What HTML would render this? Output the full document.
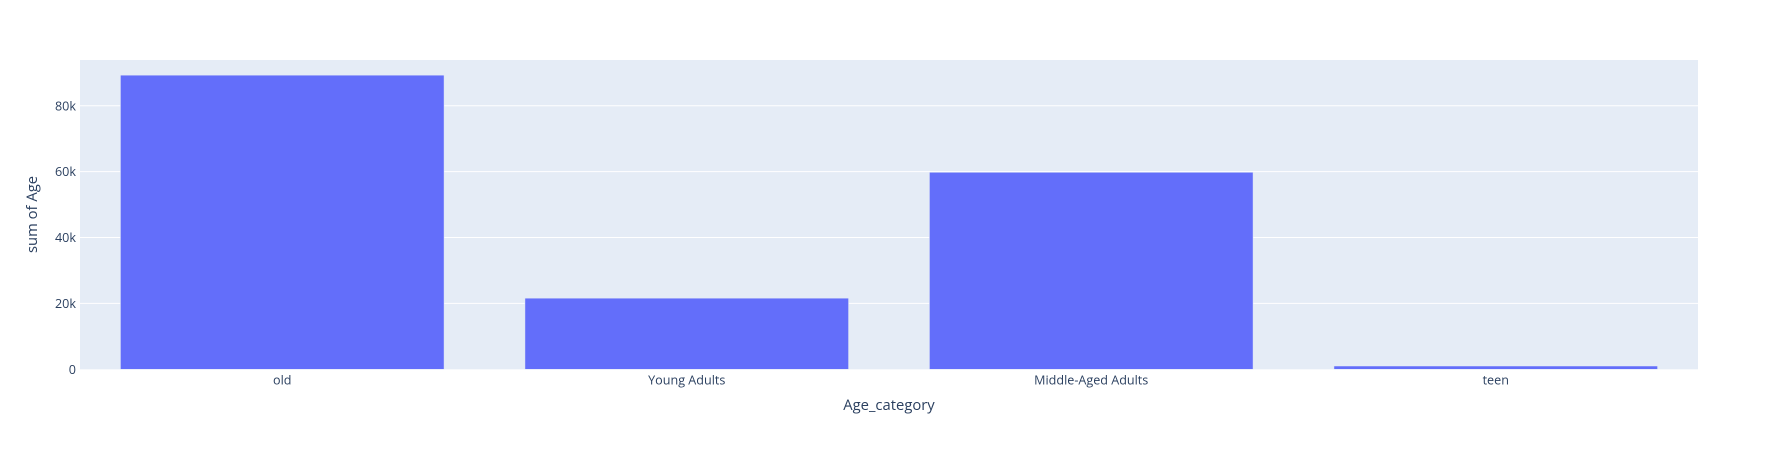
<!DOCTYPE html>
<html><head><meta charset="utf-8"><style>
body{margin:0;background:#fff;}
svg{display:block;font-family:"Open Sans","Liberation Sans",sans-serif;}
</style></head><body>
<svg id="chart" width="1778" height="450">
<rect x="80" y="60" width="1618" height="309.3" fill="#e5ecf6"/>
<g id="grid"></g><g id="bars"></g><g id="yticks"></g><g id="xticks"></g>
<text x="889" y="410" text-anchor="middle" font-size="14.8" fill="#2a3f5f">Age_category</text>
<text transform="translate(37,214.5) rotate(-90)" text-anchor="middle" font-size="14.8" fill="#2a3f5f">sum of Age</text>
</svg>
<script>
const categories=["old","Young Adults","Middle-Aged Adults","teen"];
const values=[89300,21600,59800,1000];
const yTicks=[0,20000,40000,60000,80000];
const yTickLabels=["0","20k","40k","60k","80k"];
const L=80,R=1698,T=60,B=369.3,yMax=93900;
const NS="http://www.w3.org/2000/svg";
function y(v){return B-(v/yMax)*(B-T);}
const band=(R-L)/categories.length;
function xc(i){return L+band*(i+0.5);}
const grid=document.getElementById('grid'),bars=document.getElementById('bars'),yt=document.getElementById('yticks'),xt=document.getElementById('xticks');
yTicks.forEach((v,i)=>{
 if(v>0){const g=document.createElementNS(NS,'line');
 g.setAttribute('x1',L);g.setAttribute('x2',R);g.setAttribute('y1',y(v));g.setAttribute('y2',y(v));
 g.setAttribute('stroke','#fff');g.setAttribute('stroke-width','1');
 
 
 grid.appendChild(g);}
 const t=document.createElementNS(NS,'text');
 t.setAttribute('x',L-4);t.setAttribute('y',y(v)+4.5);t.setAttribute('text-anchor','end');
 t.setAttribute('font-size','12.6');t.setAttribute('fill','#2a3f5f');t.textContent=yTickLabels[i];
 
 
 yt.appendChild(t);
});
categories.forEach((c,i)=>{
 const w=band*0.8;
 const r=document.createElementNS(NS,'rect');
 r.setAttribute('x',xc(i)-w/2);r.setAttribute('width',w);
 r.setAttribute('y',y(values[i]));r.setAttribute('height',B-y(values[i]));
 r.setAttribute('fill','#636efa');r.setAttribute('stroke','#e5ecf6');r.setAttribute('stroke-width','0.5');
 
 
 bars.appendChild(r);
 const t=document.createElementNS(NS,'text');
 t.setAttribute('x',xc(i));t.setAttribute('y',B+15);t.setAttribute('text-anchor','middle');
 t.setAttribute('font-size','12.6');t.setAttribute('fill','#2a3f5f');t.textContent=c;
 
 
 xt.appendChild(t);
});
</script>
</body></html>
